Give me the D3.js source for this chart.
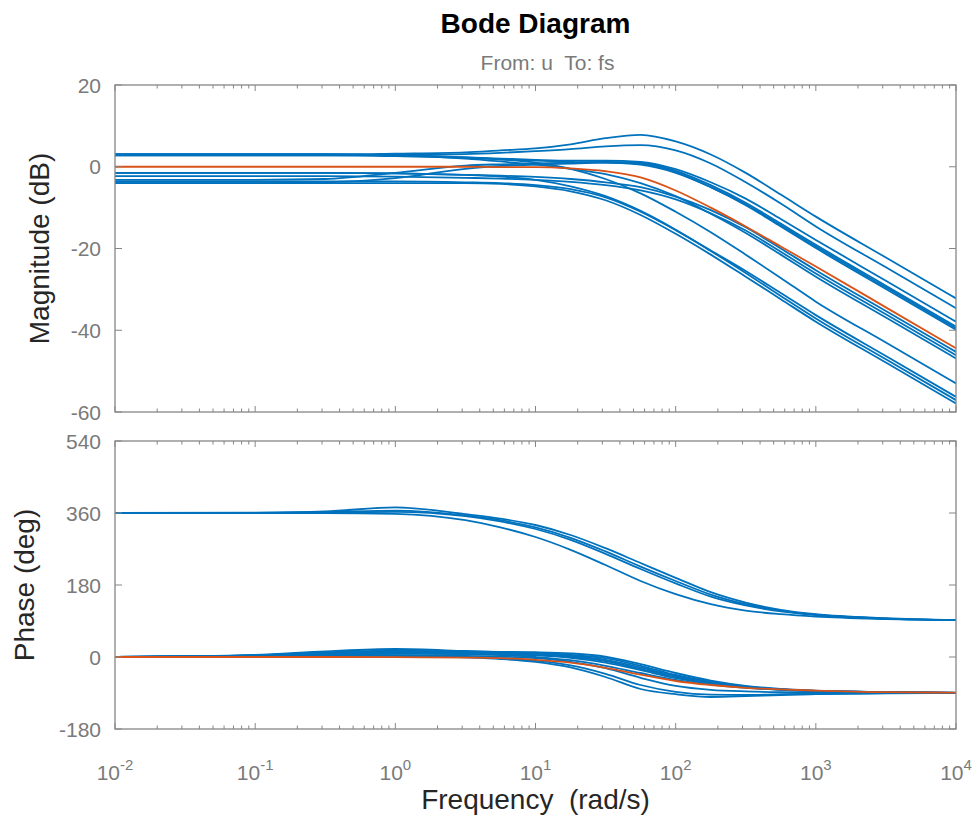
<!DOCTYPE html>
<html>
<head>
<meta charset="utf-8">
<script src="https://cdn.jsdelivr.net/npm/d3@7"></script>
<style>
  body { margin: 0; background: #fff; }
  svg { font-family: "Liberation Sans", Arial, sans-serif; }
</style>
</head>
<body>
<div id="chart"></div>
<script>
// frequency grid (rad/s) the values were read at
var freqs = [0.01, 0.1, 0.316, 1, 3.16, 5.62, 10, 17.8, 31.6, 56.2, 100, 178, 316, 562, 1000, 3160, 10000];

// nominal response (orange)
var nomMag   = [0, 0, 0, 0, 0, -0.1, -0.1, -0.4, -1.1, -2.6, -5.8, -10, -14.6, -19.5, -24.4, -34.4, -44.4];
var nomPhase = [0, 0, 0, -0.5, -1.5, -3, -7, -14, -27, -44, -60, -70, -77, -81, -84, -88, -89];

// sampled responses (blue), magnitude in dB
var sampleMag = [
  [3.0, 3.0, 3.0, 3.2, 3.5, 4.0, 4.5, 5.5, 7.0, 7.8, 6.2, 3.0, -1.5, -6.8, -12.2, -22.2, -32.2],
  [2.8, 2.8, 2.8, 2.9, 3.1, 3.4, 3.8, 4.3, 5.0, 5.3, 4.0, 0.8, -3.8, -9.0, -14.6, -24.6, -34.6],
  [3.0, 3.0, 3.0, 2.8, 2.3, 2.0, 1.7, 1.5, 1.5, 1.2, -0.6, -3.8, -7.8, -12.8, -17.9, -27.9, -37.9],
  [-3.2, -3.2, -3.0, -1.5, 0.3, 0.6, 0.8, 1.0, 1.2, 1.0, -1.0, -4.5, -8.8, -13.9, -19.1, -29.1, -39.1],
  [-4.0, -4.0, -3.8, -2.8, -0.5, 0.2, 0.5, 0.8, 1.0, 0.8, -1.3, -5.0, -9.4, -14.6, -19.9, -29.9, -39.9],
  [2.8, 2.8, 2.8, 2.6, 2.2, 1.8, 1.5, 1.2, 1.0, 0.5, -1.5, -5.0, -9.2, -14.3, -19.5, -29.5, -39.5],
  [-1.5, -1.5, -1.5, -1.6, -2.0, -2.2, -2.5, -3.0, -3.8, -5.0, -7.3, -10.6, -14.8, -20.0, -25.3, -35.3, -45.3],
  [-2.3, -2.3, -2.3, -2.4, -2.7, -2.9, -3.2, -3.7, -4.5, -5.8, -8.0, -11.4, -15.6, -20.8, -26.1, -36.1, -46.1],
  [3.0, 3.0, 3.0, 2.8, 2.0, 1.3, 0.5, -0.5, -1.8, -4.0, -7.2, -11.5, -16.2, -21.5, -26.9, -36.9, -46.9],
  [3.0, 3.0, 3.0, 2.8, 2.3, 1.8, 1.0, -0.5, -3.0, -6.5, -11.0, -16.0, -21.5, -27.2, -33.0, -43.0, -53.0],
  [-3.6, -3.6, -3.6, -3.6, -3.8, -4.0, -4.5, -5.5, -7.5, -11.0, -15.5, -20.5, -25.5, -30.9, -36.3, -46.3, -56.3],
  [-1.5, -1.5, -1.5, -1.6, -2.0, -2.4, -3.2, -4.8, -7.2, -10.8, -15.4, -20.6, -26.0, -31.6, -37.1, -47.1, -57.1],
  [-4.0, -4.0, -4.0, -4.0, -4.0, -4.2, -4.8, -6.0, -8.2, -11.8, -16.4, -21.5, -26.9, -32.4, -37.9, -47.9, -57.9]
];

// sampled responses (blue), phase in degrees
var samplePhase = [
  [360, 360, 360, 358, 342, 324, 300, 268, 230, 190, 157, 132, 116, 107, 101, 95, 92],
  [360, 361, 364, 374, 357, 346, 330, 305, 272, 235, 198, 162, 136, 118, 107, 97, 92],
  [360, 360, 362, 366, 354, 342, 324, 298, 264, 226, 190, 156, 132, 116, 106, 96, 92],
  [360, 360, 361, 363, 352, 339, 320, 293, 258, 220, 184, 151, 129, 114, 105, 96, 92],
  [0, 2, 5, 4, -1, -5, -12, -26, -50, -80, -93, -100, -98, -95, -93, -91, -90],
  [0, 2, 4, 3, 0, -3, -9, -21, -42, -70, -87, -94, -95, -93, -92, -90.5, -90],
  [0, 3, 8, 10, 8, 5, 0, -8, -22, -40, -57, -69, -77, -81, -85, -88, -89],
  [0, 4, 12, 16, 14, 13, 12, 9, 1, -18, -40, -59, -72, -80, -84, -88, -90],
  [0, 5, 14, 20, 15, 12, 10, 5, -3, -22, -45, -62, -74, -81, -85, -88, -90],
  [0, 3, 10, 14, 12, 10, 8, 3, -7, -26, -48, -64, -75, -82, -85, -88, -90],
  [0, 2, 6, 8, 7, 6, 4, -2, -14, -33, -53, -67, -76, -82, -85, -88, -90],
  [0, 4, 11, 13, 10, 8, 5, 0, -10, -30, -50, -65, -75, -81, -85, -88, -90],
  [0, 1, 3, 4, 3, 1, -3, -12, -28, -52, -72, -82, -86, -88, -89, -90, -90]
];

var magTicks = [20, 0, -20, -40, -60];
var phaseTicks = [540, 360, 180, 0, -180];
var decades = [-2, -1, 0, 1, 2, 3, 4];

var width = 980, height = 816;
var left = 115, right = 956;
var blue = "#0072BD", orange = "#D95319";
var axisGray = "#868686", textGray = "#7a7a7a", dark = "#262626";

var svg = d3.select("#chart").append("svg")
    .attr("width", width)
    .attr("height", height);

var x = d3.scaleLog().domain([0.01, 10000]).range([left, right]);
var yMag = d3.scaleLinear().domain([-60, 20]).range([412, 85]);
var yPhase = d3.scaleLinear().domain([-180, 540]).range([729, 441]);

// log ticks: majors at decades, minors at 2..9
var majorTicks = decades.map(function (d) { return Math.pow(10, d); });
var minorTicks = [];
decades.slice(0, -1).forEach(function (d) {
    for (var k = 2; k <= 9; k++) minorTicks.push(k * Math.pow(10, d));
});

function drawPanel(y, ticks, series, nominal) {
    var top = y.range()[1], bottom = y.range()[0];
    var g = svg.append("g");

    var line = d3.line()
        .x(function (d, i) { return x(freqs[i]); })
        .y(function (d) { return y(d); })
        .curve(d3.curveMonotoneX);

    var clipId = "clip" + top;
    svg.append("clipPath").attr("id", clipId)
        .append("rect")
        .attr("x", left).attr("y", top)
        .attr("width", right - left).attr("height", bottom - top);

    var curves = g.append("g").attr("clip-path", "url(#" + clipId + ")");
    curves.selectAll("path.sample")
        .data(series)
        .enter()
        .append("path")
        .attr("class", "sample")
        .attr("d", line)
        .attr("fill", "none")
        .attr("stroke", blue)
        .attr("stroke-width", 1.8);
    curves.append("path")
        .datum(nominal)
        .attr("d", line)
        .attr("fill", "none")
        .attr("stroke", orange)
        .attr("stroke-width", 1.8);

    // box
    g.append("rect")
        .attr("x", left).attr("y", top)
        .attr("width", right - left).attr("height", bottom - top)
        .attr("fill", "none")
        .attr("stroke", axisGray)
        .attr("stroke-width", 1.3);

    // x ticks, inward on bottom and top
    [[bottom, -1], [top, 1]].forEach(function (p) {
        g.selectAll(null).data(majorTicks).enter().append("line")
            .attr("x1", function (d) { return x(d); })
            .attr("x2", function (d) { return x(d); })
            .attr("y1", p[0]).attr("y2", p[0] + p[1] * 6)
            .attr("stroke", axisGray);
        g.selectAll(null).data(minorTicks).enter().append("line")
            .attr("x1", function (d) { return x(d); })
            .attr("x2", function (d) { return x(d); })
            .attr("y1", p[0]).attr("y2", p[0] + p[1] * 3.5)
            .attr("stroke", axisGray);
    });

    // y ticks, inward on left and right
    [[left, 1], [right, -1]].forEach(function (p) {
        g.selectAll(null).data(ticks).enter().append("line")
            .attr("x1", p[0]).attr("x2", p[0] + p[1] * 7)
            .attr("y1", function (d) { return y(d); })
            .attr("y2", function (d) { return y(d); })
            .attr("stroke", axisGray);
    });

    g.selectAll("text.ytick")
        .data(ticks)
        .enter()
        .append("text")
        .attr("class", "ytick")
        .attr("x", left - 14)
        .attr("y", function (d) { return y(d); })
        .attr("dy", "0.36em")
        .attr("text-anchor", "end")
        .attr("fill", textGray)
        .style("font-size", "21px")
        .text(function (d) { return d; });
}

drawPanel(yMag, magTicks, sampleMag, nomMag);
drawPanel(yPhase, phaseTicks, samplePhase, nomPhase);

// x tick labels 10^k
var xl = svg.selectAll("text.xtick")
    .data(decades)
    .enter()
    .append("text")
    .attr("class", "xtick")
    .attr("x", function (d) { return x(Math.pow(10, d)); })
    .attr("y", 780)
    .attr("text-anchor", "middle")
    .attr("fill", textGray)
    .style("font-size", "21px");
xl.append("tspan").text("10");
xl.append("tspan")
    .attr("dy", -10)
    .style("font-size", "15px")
    .text(function (d) { return d; });

// titles and axis labels
var cx = (left + right) / 2;
svg.append("text")
    .attr("x", cx).attr("y", 33)
    .attr("text-anchor", "middle")
    .attr("fill", "#000")
    .style("font-size", "28px")
    .style("font-weight", "bold")
    .text("Bode Diagram");
svg.append("text")
    .attr("x", cx + 12).attr("y", 70)
    .attr("text-anchor", "middle")
    .attr("fill", textGray)
    .style("font-size", "21px")
    .attr("xml:space", "preserve")
    .text("From: u  To: fs");
svg.append("text")
    .attr("x", cx).attr("y", 809)
    .attr("text-anchor", "middle")
    .attr("fill", dark)
    .style("font-size", "28px")
    .attr("xml:space", "preserve")
    .text("Frequency  (rad/s)");
svg.append("text")
    .attr("transform", "translate(49," + (yMag(-20)) + ") rotate(-90)")
    .attr("text-anchor", "middle")
    .attr("fill", dark)
    .style("font-size", "28px")
    .text("Magnitude (dB)");
svg.append("text")
    .attr("transform", "translate(34," + (yPhase(180)) + ") rotate(-90)")
    .attr("text-anchor", "middle")
    .attr("fill", dark)
    .style("font-size", "28px")
    .text("Phase (deg)");
</script>
</body>
</html>
